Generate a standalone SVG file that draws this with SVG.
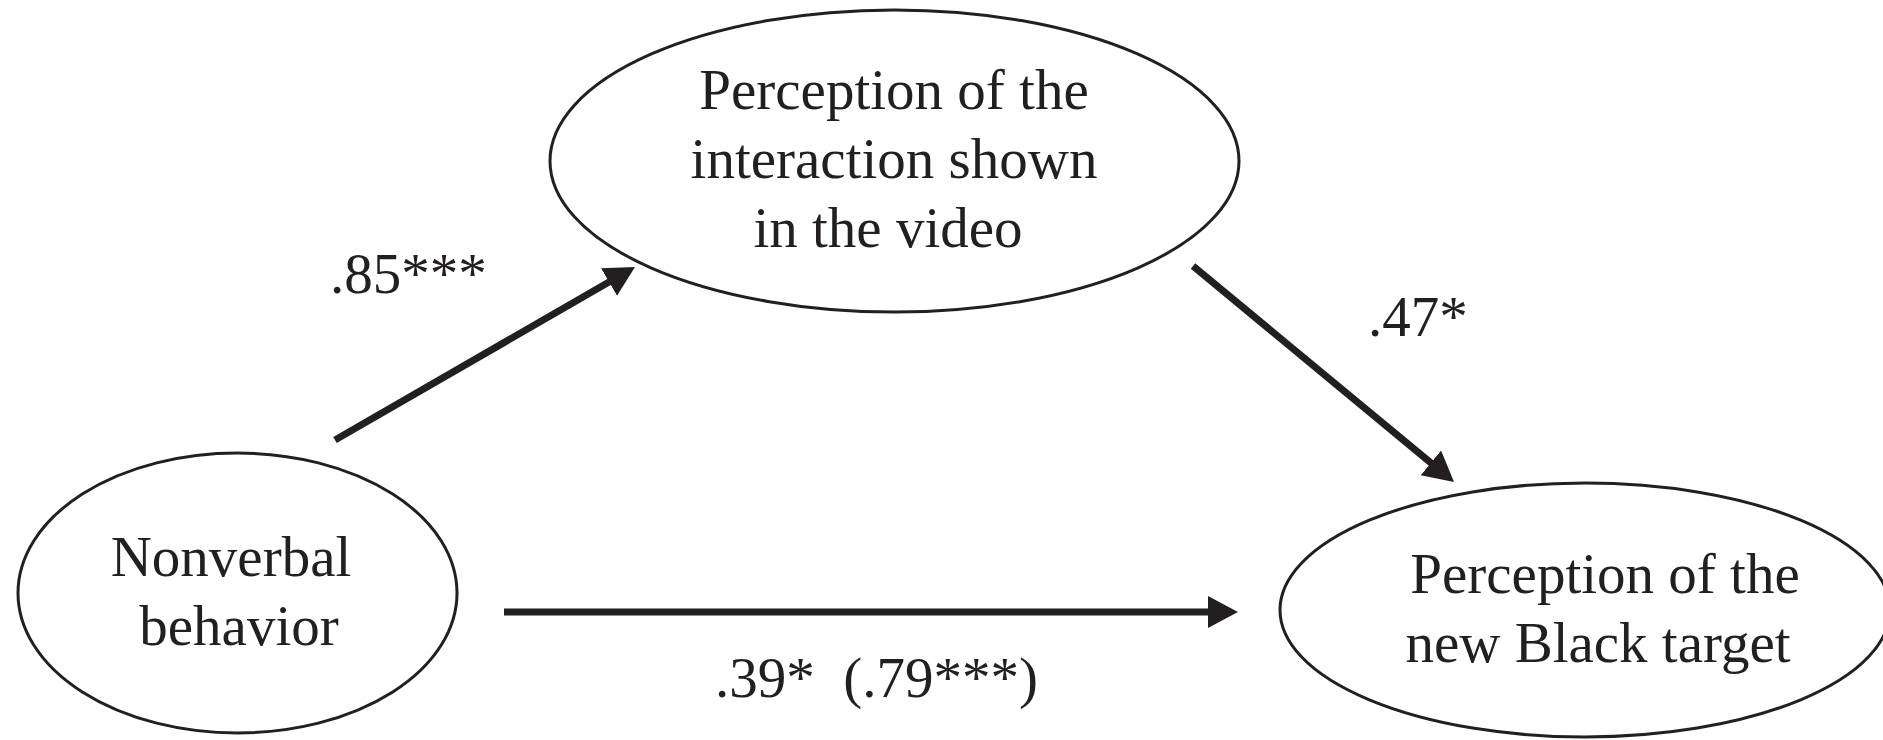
<svg xmlns="http://www.w3.org/2000/svg" width="1883" height="740" viewBox="0 0 1883 740">
<defs>
<style>
.node ellipse { fill: #ffffff; stroke: #231f20; stroke-width: 3; }
text { font-family: "Liberation Serif", "Times New Roman", serif; font-size: 57px; fill: #231f20; }
.lbl { text-anchor: middle; }
.edge { stroke: #231f20; stroke-width: 7; fill: none; marker-end: url(#arrow); }
</style>
<marker id="arrow" markerUnits="userSpaceOnUse" markerWidth="32" markerHeight="34" refX="10" refY="16" orient="auto">
<path d="M0,0 L30,16 L0,32 z" fill="#231f20"/>
</marker>
</defs>
<rect width="1883" height="740" fill="#ffffff"/>
<g id="node-mediator" class="node">
<ellipse cx="894.5" cy="161" rx="344.5" ry="151"/>
<text class="lbl" x="894" y="109">Perception of the</text>
<text class="lbl" x="894" y="178">interaction shown</text>
<text class="lbl" x="888" y="247">in the video</text>
</g>
<g id="node-nonverbal" class="node">
<ellipse cx="237.5" cy="593" rx="219.5" ry="140"/>
<text class="lbl" x="231" y="576">Nonverbal</text>
<text class="lbl" x="239" y="645">behavior</text>
</g>
<g id="node-target" class="node">
<ellipse cx="1585" cy="610" rx="305" ry="127"/>
<text class="lbl" x="1605" y="593">Perception of the</text>
<text class="lbl" x="1598" y="662">new Black target</text>
</g>
<g id="connectors">
<line class="edge" x1="335" y1="440" x2="617.7" y2="277"/>
<line class="edge" x1="1193" y1="266" x2="1438.6" y2="469.2"/>
<line class="edge" x1="504" y1="612" x2="1218" y2="612"/>
<text x="330" y="293">.85***</text>
<text x="1368" y="336">.47*</text>
<text x="715" y="697" xml:space="preserve">.39*  (.79***)</text>
</g>
</svg>
